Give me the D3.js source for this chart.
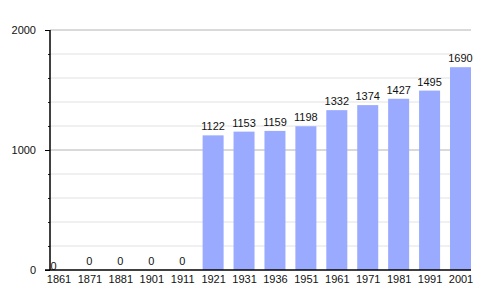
<!DOCTYPE html>
<html>
<head>
<meta charset="utf-8">
<script src="https://cdn.jsdelivr.net/npm/d3@7"></script>
<style>
  body { margin: 0; background: #fff; }
  text { font-family: "Liberation Sans", Arial, sans-serif; font-size: 11px; fill: #111; }
</style>
</head>
<body>
<script>
var years = ['1861', '1871', '1881', '1901', '1911', '1921', '1931', '1936', '1951', '1961', '1971', '1981', '1991', '2001'];
var population = [0, 0, 0, 0, 0, 1122, 1153, 1159, 1198, 1332, 1374, 1427, 1495, 1690];
var majorTicks = [0, 1000, 2000];
var minorTicks = [200, 400, 600, 800, 1200, 1400, 1600, 1800];

var settings = {
  width: 500,
  height: 300,
  left: 50,
  right: 471,
  top: 30,
  bottom: 270,
  barWidth: 21
}

var svg = d3.select('body').append('svg')
  .attr('width', settings.width)
  .attr('height', settings.height);

var y = d3.scaleLinear().domain([0, 2000]).range([settings.bottom, settings.top]);
var x = d3.scalePoint().domain(years).range([58.5, 460.5]);

// grid lines
svg.selectAll('line.minor').data(minorTicks)
  .enter().append('line')
    .attr('class', 'minor')
    .attr('x1', settings.left).attr('x2', settings.right)
    .attr('y1', function(d){return y(d);}).attr('y2', function(d){return y(d);})
    .style('stroke', '#e2e2e2');

svg.selectAll('line.major').data(majorTicks.slice(1))
  .enter().append('line')
    .attr('class', 'major')
    .attr('x1', settings.left).attr('x2', settings.right)
    .attr('y1', function(d){return y(d);}).attr('y2', function(d){return y(d);})
    .style('stroke', '#b4b4b4');

// bars
svg.selectAll('rect.bar').data(population)
  .enter().append('rect')
    .attr('class', 'bar')
    .attr('x', function(d, i){return x(years[i]) - settings.barWidth/2;})
    .attr('y', function(d){return y(d);})
    .attr('width', settings.barWidth)
    .attr('height', function(d){return settings.bottom - y(d);})
    .style('fill', '#99aaff');

// value labels
svg.selectAll('text.val').data(population)
  .enter().append('text')
    .attr('class', 'val')
    .attr('x', function(d, i){return i === 0 ? x(years[i]) - 5 : x(years[i]);})
    .attr('y', function(d, i){return i === 0 ? y(d) : y(d) - 5;})
    .attr('text-anchor', 'middle')
    .text(function(d){return d;});

// y axis
var yAxis = d3.axisLeft(y).tickValues(minorTicks).tickSize(2).tickFormat('');
svg.append('g')
  .attr('transform', 'translate(' + settings.left + ',0)')
  .call(yAxis)
  .call(function(g){
    g.select('.domain').remove();
    g.selectAll('line').style('stroke', '#222');
  });

var yAxisMajor = d3.axisLeft(y).tickValues(majorTicks).tickSize(5).tickPadding(9).tickFormat(d3.format('d'));
svg.append('g')
  .attr('transform', 'translate(' + settings.left + ',0)')
  .call(yAxisMajor)
  .call(function(g){
    g.select('.domain').remove();
    g.selectAll('line').style('stroke', '#000');
    g.selectAll('text').style('font-size', '11px').style('font-family', '"Liberation Sans", Arial, sans-serif').attr('fill', '#111');
  });

svg.append('line')
  .attr('x1', settings.left).attr('x2', settings.left)
  .attr('y1', settings.top).attr('y2', settings.bottom)
  .style('stroke', '#000').style('stroke-width', 1.5);

// x axis
var xAxis = d3.axisBottom(x).tickSize(0).tickPadding(5);
svg.append('g')
  .attr('transform', 'translate(0,' + settings.bottom + ')')
  .call(xAxis)
  .call(function(g){
    g.select('.domain').remove();
    g.selectAll('text').style('font-size', '11px').style('font-family', '"Liberation Sans", Arial, sans-serif').attr('fill', '#111');
  });

svg.append('line')
  .attr('x1', 45).attr('x2', settings.right)
  .attr('y1', settings.bottom).attr('y2', settings.bottom)
  .style('stroke', '#000').style('stroke-width', 1.5);
</script>
</body>
</html>
